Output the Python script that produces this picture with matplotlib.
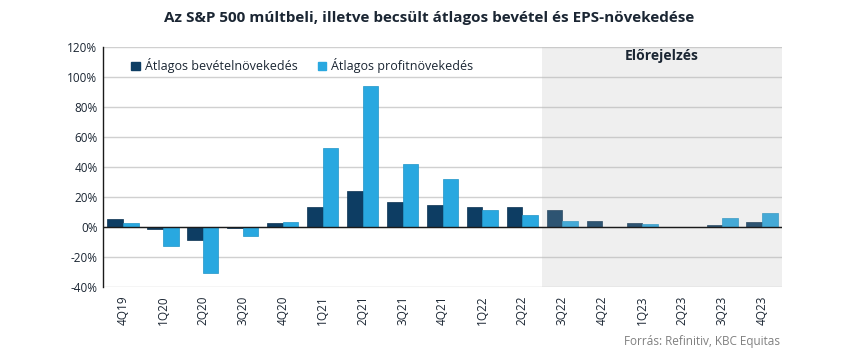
import matplotlib
matplotlib.use("Agg")
import matplotlib.pyplot as plt
import numpy as np
from matplotlib.patches import Patch
from matplotlib.ticker import FuncFormatter

categories = ["4Q19", "1Q20", "2Q20", "3Q20", "4Q20", "1Q21", "2Q21", "3Q21", "4Q21",
              "1Q22", "2Q22", "3Q22", "4Q22", "1Q23", "2Q23", "3Q23", "4Q23"]
revenue = [5.6, -1.0, -8.7, -0.7, 2.4, 13.3, 24.0, 16.7, 14.9, 13.6, 13.6, 11.3, 4.2, 2.9, 0.0, 1.1, 3.3]
profit = [2.9, -12.7, -30.9, -6.2, 3.6, 52.9, 93.8, 42.2, 31.8, 11.3, 8.2, 3.8, 0.0, 2.0, 0.0, 6.0, 9.1]
forecast_start = "3Q22"
series_names = ["Átlagos bevételnövekedés", "Átlagos profitnövekedés"]

plt.rcParams['font.family'] = ['Open Sans', 'DejaVu Sans']

dark = "#0d3d63"
light = "#29a8e0"
textc = "#1b2633"

fig = plt.figure(figsize=(8.5, 3.58), dpi=100)
ax = fig.add_axes([0.1212, 0.1983, 0.92 - 0.1212, 0.8687 - 0.1983])

x = np.arange(len(categories))
w = 0.39
ax.bar(x - w / 2, revenue, w, color=dark, edgecolor="#0a3050", linewidth=0.5, zorder=2)
ax.bar(x + w / 2, profit, w, color=light, edgecolor="#1f95c8", linewidth=0.5, zorder=2)

fi = categories.index(forecast_start)
ax.axvspan(fi - 0.5, len(categories) - 0.5, color="#b2b2b2", alpha=0.2, lw=0, zorder=3)
ax.text((fi - 0.5 + len(categories) - 0.5) / 2, 114, "Előrejelzés", ha="center", va="center",
        fontsize=10, fontweight="bold", color=textc, zorder=5)

ax.axhline(0, color="#1a1a1a", lw=1.0, zorder=4)
ax.set_xlim(-0.5, len(categories) - 0.5)
ax.set_ylim(-40, 120)
ax.set_yticks(np.arange(-40, 121, 20))
ax.yaxis.set_major_formatter(FuncFormatter(lambda v, p: f"{int(v)}%"))
ax.grid(axis="y", color="#d0d0d0", lw=1.0, zorder=0)
ax.set_axisbelow(True)
for s in ["top", "right", "bottom"]:
    ax.spines[s].set_visible(False)
ax.spines["left"].set_color("#1a1a1a")
ax.spines["left"].set_linewidth(1.0)
ax.tick_params(axis="y", length=0, labelsize=8.5, labelcolor=textc, pad=4)
ax.set_xticks(x)
ax.set_xticklabels(categories, rotation=90, fontsize=8.5, color=textc)
ax.tick_params(axis="x", length=0, pad=6)

handles = [Patch(facecolor=dark, edgecolor=dark), Patch(facecolor=light, edgecolor=light)]
leg = ax.legend(handles, series_names, loc="upper left", bbox_to_anchor=(0.025, 1.0), ncol=2,
                frameon=False, fontsize=9, handlelength=0.7, handleheight=0.7,
                handletextpad=0.4, columnspacing=1.6, labelcolor=textc)

fig.text(0.505, 0.95, "Az S&P 500 múltbeli, illetve becsült átlagos bevétel és EPS-növekedése",
         ha="center", va="center", fontsize=11, fontweight="bold", color=textc)
fig.text(0.918, 0.047, "Forrás: Refinitiv, KBC Equitas", ha="right", va="center",
         fontsize=8.5, color="#808080")

fig.savefig("out.png", dpi=100)
